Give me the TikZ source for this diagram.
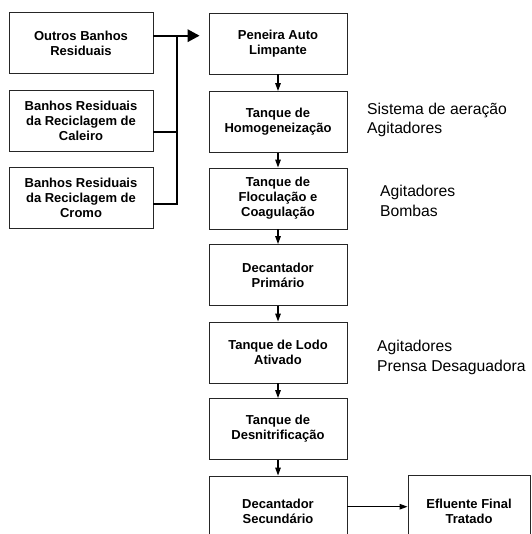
\documentclass[tikz,border=0pt]{standalone}
\usepackage{fontspec}
\setmainfont{Liberation Sans}
\usetikzlibrary{arrows.meta}
\begin{document}
\begin{tikzpicture}[x=1pt,y=-1pt,
  box/.style={draw=black!85, line width=0.9pt, minimum height=61pt, align=center,
    font=\fontsize{13}{15}\selectfont\bfseries, inner sep=0pt},
  lbox/.style={box, minimum width=144pt},
  rbox/.style={box, minimum width=138pt},
  flow/.style={line width=1.3pt, -{Triangle[length=8pt,width=5.5pt]}},
  feed/.style={line width=1.8pt},
  side/.style={anchor=west, align=left, inner sep=0pt, font=\fontsize{15.7}{19.5}\selectfont}]
\useasboundingbox (0,0) rectangle (531,534);
\clip (0,0) rectangle (531,534);
% left sources
\node[lbox] (o1) at (81,43) {Outros Banhos\\Residuais};
\node[lbox] (o2) at (81,120.5) {Banhos Residuais\\da Reciclagem de\\Caleiro};
\node[lbox] (o3) at (81,198) {Banhos Residuais\\da Reciclagem de\\Cromo};
% main column
\node[rbox] (p1) at (278,43.5) {Peneira Auto\\Limpante};
\node[rbox] (p2) at (278,122) {Tanque de\\Homogeneização};
\node[rbox] (p3) at (278,198.5) {Tanque de\\Floculação e\\Coagulação};
\node[rbox] (p4) at (278,275) {Decantador\\Primário};
\node[rbox] (p5) at (278,352.5) {Tanque de Lodo\\Ativado};
\node[rbox] (p6) at (278,429) {Tanque de\\Desnitrificação};
\node[rbox, minimum height=70pt] (p7) at (278,511) {Decantador\\Secundário};
\node[box, minimum width=122pt, minimum height=72pt] (ef) at (469,511) {Efluente Final\\Tratado};
% side labels
\node[side] (s1) at (367,120) {Sistema de aeração\\Agitadores};
\node[side] (s2) at (380,201) {Agitadores\\Bombas};
\node[side] (s3) at (377,357.5) {Agitadores\\Prensa Desaguadora};
% collector
\coordinate (j1) at (177,35.7);
\coordinate (j2) at (177,132.3);
\draw[feed] ([yshift=7.3pt]o1.east) -- (j1);
\draw[feed] ([yshift=-11.8pt]o2.east) -- (j2);
\draw[feed] ([yshift=-6pt]o3.east) -| (j1);
\draw[feed, -{Triangle[length=12pt,width=12.5pt]}] (j1) -- ([xshift=-9pt,yshift=7.8pt]p1.west);
% main flow
\draw[flow] (p1) -- (p2);
\draw[flow] (p2) -- (p3);
\draw[flow] (p3) -- (p4);
\draw[flow] (p4) -- (p5);
\draw[flow] (p5) -- (p6);
\draw[flow] (p6) -- (p7);
\draw[flow] ([yshift=4.3pt]p7.east) -- ([yshift=4.3pt]ef.west);
\end{tikzpicture}
\end{document}
